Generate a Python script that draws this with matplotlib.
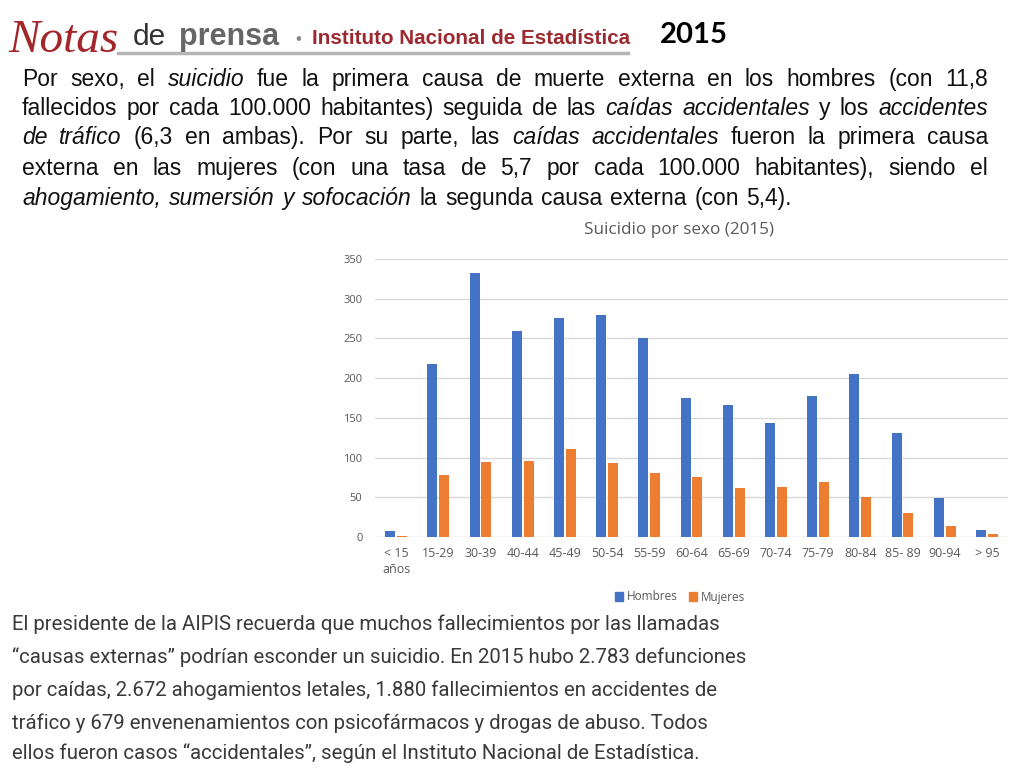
import matplotlib
matplotlib.use('Agg')
import matplotlib.pyplot as plt
from matplotlib.patches import Patch
import numpy as np

W, H = 1024, 768

categorias = ['< 15\naños', '15-29', '30-39', '40-44', '45-49', '50-54', '55-59', '60-64',
              '65-69', '70-74', '75-79', '80-84', '85- 89', '90-94', '> 95']
hombres = [7, 218, 332, 259, 276, 279, 251, 175, 166, 143, 178, 205, 131, 49, 9]
mujeres = [1.5, 78, 95, 96, 111, 93, 80, 75, 62, 63, 69, 50, 30, 14, 4]
yticks = [0, 50, 100, 150, 200, 250, 300, 350]

titulo = 'Suicidio por sexo (2015)'
series = ['Hombres', 'Mujeres']

# top paragraph, (text, style) pieces per line
parrafo_top = [
    [("Por sexo, el ", "normal"), ("suicidio", "italic"),
     (" fue la primera causa de muerte externa en los hombres (con 11,8", "normal")],
    [("fallecidos por cada 100.000 habitantes) seguida de las ", "normal"),
     ("caídas accidentales", "italic"), (" y los ", "normal"), ("accidentes", "italic")],
    [("de tráfico", "italic"), (" (6,3 en ambas). Por su parte, las ", "normal"),
     ("caídas accidentales", "italic"), (" fueron la primera causa", "normal")],
    [("externa en las mujeres (con una tasa de 5,7 por cada 100.000 habitantes), siendo el", "normal")],
    [("ahogamiento, sumersión y sofocación", "italic"),
     (" la segunda causa externa (con 5,4).", "normal")],
]
parrafo_bottom = [
    "El presidente de la AIPIS recuerda que muchos fallecimientos por las llamadas",
    "“causas externas” podrían esconder un suicidio. En 2015 hubo 2.783 defunciones",
    "por caídas, 2.672 ahogamientos letales, 1.880 fallecimientos en accidentes de",
    "tráfico y 679 envenenamientos con psicofármacos y drogas de abuso. Todos",
    "ellos fueron casos “accidentales”, según el Instituto Nacional de Estadística.",
]

fig = plt.figure(figsize=(W / 100, H / 100), dpi=100)
fig.patch.set_facecolor('white')
renderer = fig.canvas.get_renderer()


def fx(x):
    return x / W


def fy(y):
    return 1 - y / H


def width_of(s, size, **kw):
    t = fig.text(0, 0, s, fontsize=size, **kw)
    w = t.get_window_extent(renderer).width
    t.remove()
    return w


def fit_size(s, target, **kw):
    return 10 * target / width_of(s, 10, **kw)


def draw_line(segs, x0, x1, y, size, **kw):
    # justified line: words spread so the line fills x0..x1
    words = [(w, st) for txt, st in segs for w in txt.split()]
    widths = [width_of(w, size, fontstyle=st, **kw) for w, st in words]
    gap = (x1 - x0 - sum(widths)) / (len(words) - 1)
    x = x0
    for (w, st), wd in zip(words, widths):
        fig.text(fx(x), fy(y), w, fontsize=size, fontstyle=st, va='baseline', ha='left', **kw)
        x += wd + gap


# ---- header
fig.text(fx(8), fy(52), 'Notas', fontsize=34, family='Liberation Serif', fontstyle='italic',
         color='#a3262b', va='baseline')
fig.text(fx(133), fy(45), 'de', fontsize=21.5, family='Liberation Sans', color='#333333', va='baseline')
fig.text(fx(179), fy(45), 'prensa', fontsize=22, family='Liberation Sans', fontweight='bold',
         color='#666666', va='baseline')
fig.text(fx(295), fy(44), '•', fontsize=12, family='Liberation Sans', color='#888888', va='baseline')
s_ine = 'Instituto Nacional de Estadística'
fig.text(fx(312), fy(44), s_ine, family='Liberation Sans', fontweight='bold', color='#9b2a30',
         fontsize=fit_size(s_ine, 316, family='Liberation Sans', fontweight='bold'), va='baseline')
fig.add_artist(plt.Line2D([fx(118), fx(628)], [fy(53), fy(53)], color='#b5b5b5', lw=2.5))
fig.text(fx(660), fy(43), '2015', family='Lato', fontweight='bold', color='black',
         fontsize=fit_size('2015', 68, family='Lato', fontweight='bold'), va='baseline')

# ---- top paragraph (justified, last line ends at ~792)
ptop = dict(family='Liberation Sans', color='#111111')
size_top = 16.5
base_top = [86, 115, 144, 175, 205]
ends = [988, 988, 988, 988, 792]
for segs, yb, x1 in zip(parrafo_top, base_top, ends):
    draw_line(segs, 22, x1, yb, size_top, **ptop)

# ---- chart
gris = '#595959'
ax = fig.add_axes([fx(375), fy(537), (1008 - 375) / W, (537 - 259) / H])
x = np.arange(len(categorias))
ax.bar(x - 0.14, hombres, width=0.235, color='#4472C4', zorder=3)
ax.bar(x + 0.14, mujeres, width=0.235, color='#ED7D31', zorder=3)
ax.set_xlim(-0.5, len(categorias) - 0.5)
ax.set_ylim(0, 350)
ax.set_yticks(yticks)
ax.set_xticks(x)
ax.set_xticklabels(categorias, family='Open Sans', fontsize=9, color=gris, linespacing=1.3)
for lab in ax.get_yticklabels():
    lab.set_family('Open Sans')
    lab.set_fontsize(8)
    lab.set_color(gris)
ax.tick_params(axis='both', length=0)
ax.tick_params(axis='x', pad=7)
ax.tick_params(axis='y', pad=9)
ax.grid(axis='y', color='#d9d9d9', lw=1, zorder=0)
for sp in ax.spines.values():
    sp.set_visible(False)

fig.text(fx(679), fy(230), titulo, family='Open Sans', fontsize=12.3, color=gris, ha='center', va='center')

handles = [Patch(color='#4472C4'), Patch(color='#ED7D31')]
fig.legend(handles, series, loc='center', bbox_to_anchor=(fx(680), fy(597)), ncol=2, frameon=False,
           handlelength=0.7, handleheight=0.7, handletextpad=0.3, columnspacing=1.0,
           prop={'family': 'Open Sans', 'size': 8.5}, labelcolor=gris)

# ---- bottom paragraph
pbot = dict(family='Roboto', color='#3a3a3a')
size_bot = fit_size(parrafo_bottom[1], 736, **pbot)
base_bot = [630, 663, 696, 729, 759]
for s, yb in zip(parrafo_bottom, base_bot):
    fig.text(fx(12), fy(yb), s, fontsize=size_bot, va='baseline', **pbot)

fig.savefig('out.png', dpi=100)
